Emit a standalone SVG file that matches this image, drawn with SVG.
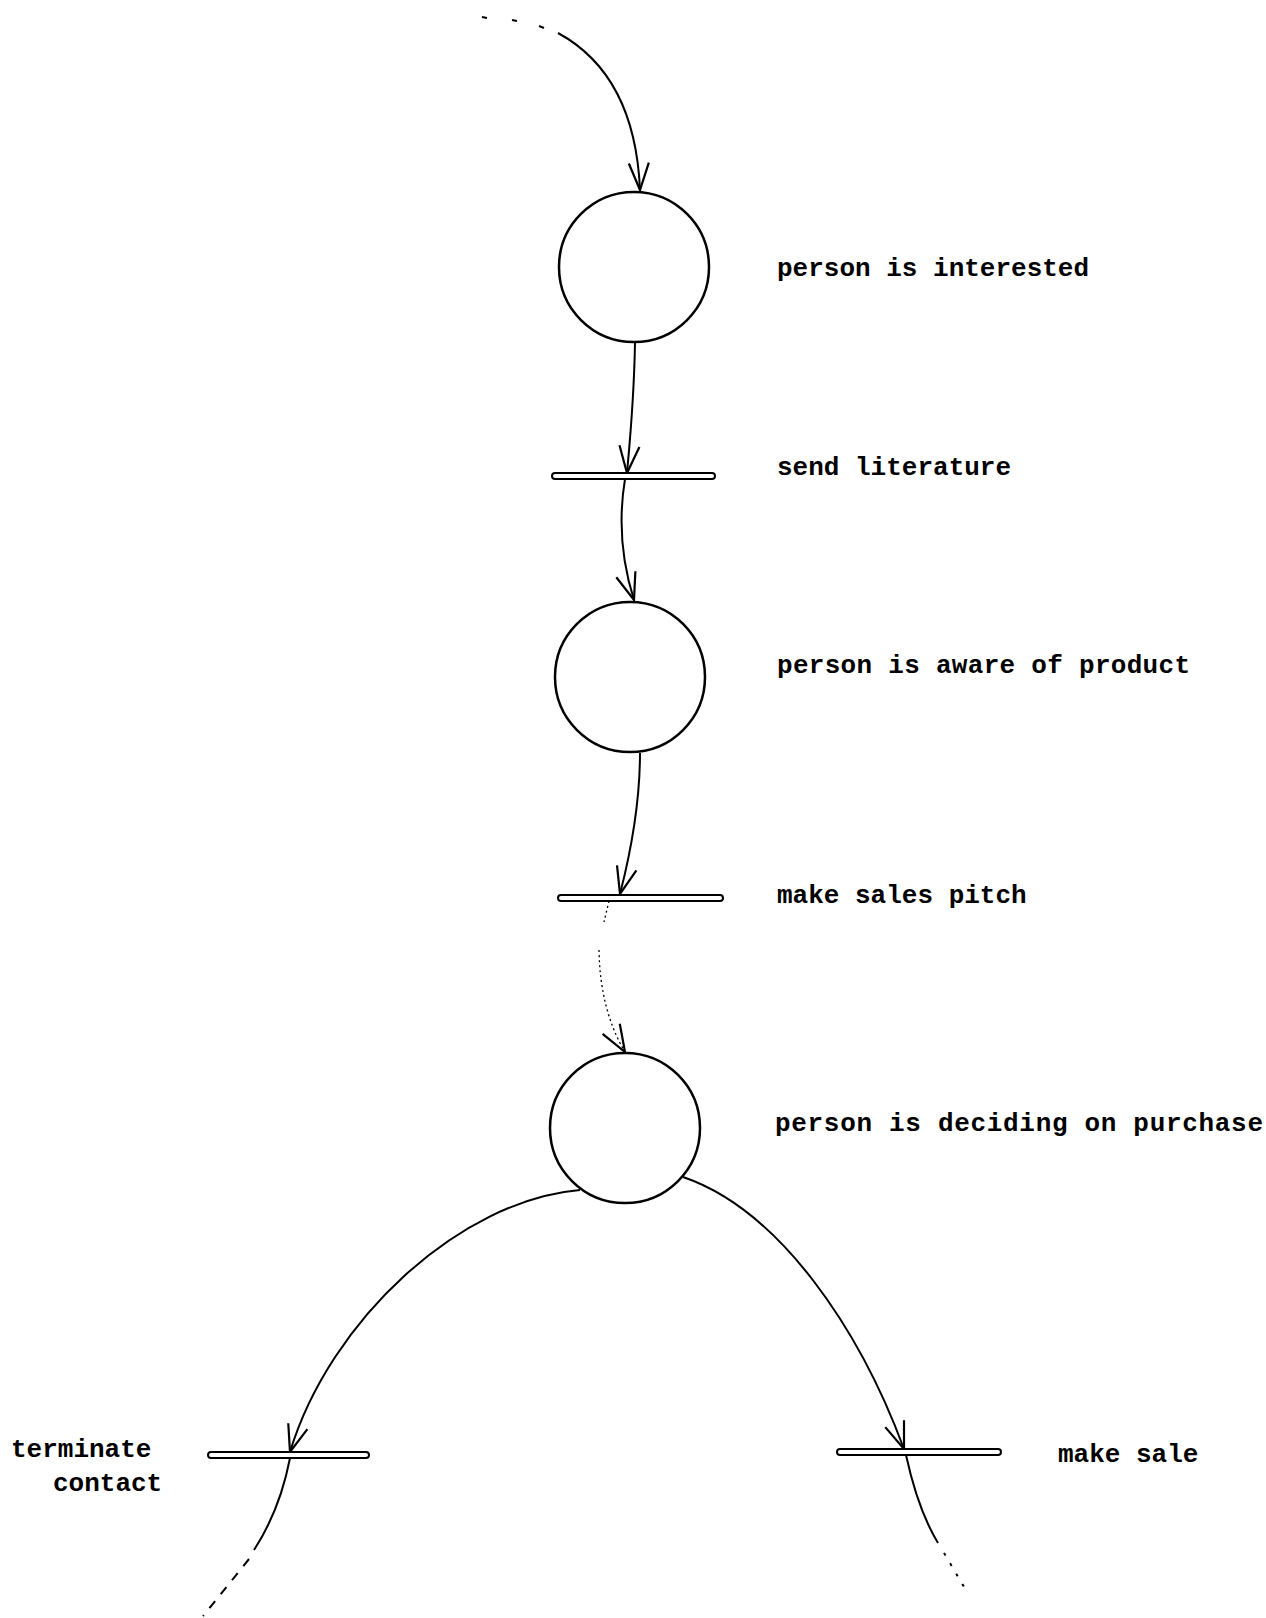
<svg xmlns="http://www.w3.org/2000/svg" width="1266" height="1618" viewBox="0 0 1266 1618">
<style>
.place{fill:#fff;stroke:#000;stroke-width:2.5}
.trans{fill:#fff;stroke:#000;stroke-width:2}
.arc{fill:none;stroke:#000;stroke-width:2}
.faint{fill:none;stroke:#000;stroke-width:1.3;stroke-dasharray:2 3}
.lbl{font-family:"Liberation Mono","Courier New",monospace;font-weight:bold;font-size:26px;fill:#000}
</style>
<defs>
<marker id="arr" markerUnits="userSpaceOnUse" markerWidth="40" markerHeight="30" viewBox="-32 -15 40 30" refX="0" refY="0" orient="auto" overflow="visible">
<path d="M-27,-10 L0,0 L-27,10" fill="none" stroke="#000" stroke-width="2.2"/>
</marker>
</defs>
<rect width="1266" height="1618" fill="#fff"/>
<g id="connectors">
<path class="arc" d="M482,17 L487,18 M512,20 L517,21 M539,26 L544,28"/>
<path class="arc" d="M558,33 Q635,75 640,190" marker-end="url(#arr)"/>
<path class="arc" d="M635,343 C634,400 630,440 627,473" marker-end="url(#arr)"/>
<path class="arc" d="M625,479 Q615,540 634,600" marker-end="url(#arr)"/>
<path class="arc" d="M640,753 C640,805 630,855 620,894" marker-end="url(#arr)"/>
<path class="faint" d="M609,901 L604,922"/>
<path class="faint" d="M599,950 Q600,1010 625,1052" marker-end="url(#arr)"/>
<path class="arc" d="M580,1190 C460,1200 330,1320 290,1452" marker-end="url(#arr)"/>
<path class="arc" d="M290,1458 Q280,1510 254,1550"/>
<path class="arc" d="M249,1559 L203,1616" stroke-dasharray="9 9"/>
<path class="arc" d="M683,1177 C780,1210 860,1330 904,1449" marker-end="url(#arr)"/>
<path class="arc" d="M906,1455 Q918,1510 938,1543"/>
<path class="arc" d="M944,1553 L967,1592" stroke-dasharray="3 9"/>
</g>
<g id="p_interested">
<circle class="place" cx="634" cy="267" r="75"/>
<text class="lbl" x="777" y="276">person is interested</text>
</g>
<g id="t_send_literature">
<rect class="trans" x="552" y="473" width="163" height="6" rx="3"/>
<text class="lbl" x="777" y="475">send literature</text>
</g>
<g id="p_aware">
<circle class="place" cx="630" cy="677" r="75"/>
<text class="lbl" x="777" y="673" textLength="413">person is aware of product</text>
</g>
<g id="t_sales_pitch">
<rect class="trans" x="558" y="895" width="165" height="6" rx="3"/>
<text class="lbl" x="777" y="903">make sales pitch</text>
</g>
<g id="p_deciding">
<circle class="place" cx="625" cy="1128" r="75"/>
<text class="lbl" x="775" y="1131" textLength="488">person is deciding on purchase</text>
</g>
<g id="t_terminate">
<rect class="trans" x="208" y="1452" width="161" height="6" rx="3"/>
<text class="lbl" x="11" y="1457">terminate</text>
<text class="lbl" x="53" y="1491">contact</text>
</g>
<g id="t_make_sale">
<rect class="trans" x="837" y="1449" width="164" height="6" rx="3"/>
<text class="lbl" x="1058" y="1462">make sale</text>
</g>
</svg>
